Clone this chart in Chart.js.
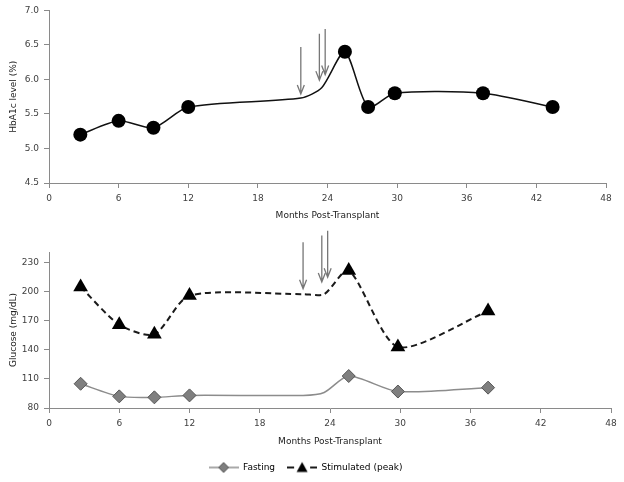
<!DOCTYPE html>
<html>
<head>
<meta charset="utf-8">
<script src="https://cdn.jsdelivr.net/npm/chart.js@4.4.1/dist/chart.umd.min.js"></script>
<style>
html, body { margin:0; padding:0; background:#fff; }
#wrap { position:relative; width:624px; height:482px; }
canvas { position:absolute; left:0; }
#top { top:0; }
#bottom { top:225px; }
</style>
</head>
<body>
<div id="wrap">
<canvas id="top" width="624" height="225"></canvas>
<canvas id="bottom" width="624" height="257"></canvas>
</div>
<script>

// HbA1c panel (markers)
const hbaMonths = [2.7, 6, 9, 12, 25.5, 27.5, 29.8, 37.4, 43.4]
const hbaValues = [5.2, 5.4, 5.3, 5.6, 6.4, 5.6, 5.8, 5.8, 5.6]

// glucose panel (markers)
const glucoseMonths = [2.7, 6, 9, 12, 25.6, 29.8, 37.5]
const fasting = [105, 92, 91, 93, 113, 97, 101]
const stimulated = [205, 166, 156, 196, 222, 143, 180]

// points on the curves without a marker (at the arrows)
const curveMonths = [21.7, 23.5]
const hbaCurve = [5.73, 5.88]
const fastingCurve = [93, 96]
const stimulatedCurve = [197.5, 197.5]

const monthTicks = [0, 6, 12, 18, 24, 30, 36, 42, 48]
const hbaTicks = [4.5, 5.0, 5.5, 6.0, 6.5, 7.0]
const glucoseTicks = [80, 110, 140, 170, 200, 230]

// arrows (month, start value, end value)
const arrowMonths = [21.7, 23.3, 23.8]
const hbaArrowFrom = [6.47, 6.66, 6.73]
const hbaArrowTo = [5.79, 5.99, 6.07]
const glucoseArrowFrom = [251, 258, 263]
const glucoseArrowTo = [203, 210, 215]

const tickFont = { family: "DejaVu Sans", size: 9 }
const titleFont = { family: "DejaVu Sans", size: 9 }
const axisGray = "#8a8a8a"

function series(xs, ys, hx, hy){
    const pts = xs.map((x, i) => ({ x: x, y: ys[i], hidden: false }))
    hx.forEach((x, i) => pts.push({ x: x, y: hy[i], hidden: true }))
    return pts.sort((a, b) => a.x - b.x)
}

function markerSize(r){
    return ctx => (ctx.raw && ctx.raw.hidden) ? 0 : r
}

function arrowPlugin(from, to){
    return {
        id: "arrows",
        afterDatasetsDraw(chart){
            const { ctx, scales } = chart
            ctx.save()
            ctx.strokeStyle = "#777"
            ctx.lineWidth = 1.3
            arrowMonths.forEach((m, i) => {
                const px = scales.x.getPixelForValue(m)
                const y0 = scales.y.getPixelForValue(from[i])
                const y1 = scales.y.getPixelForValue(to[i])
                ctx.beginPath()
                ctx.moveTo(px, y0)
                ctx.lineTo(px, y1)
                ctx.moveTo(px - 3.5, y1 - 9)
                ctx.lineTo(px, y1)
                ctx.lineTo(px + 3.5, y1 - 9)
                ctx.stroke()
            })
            ctx.restore()
        }
    }
}

function xScale(height, titleBottom){
    return {
        type: "linear",
        min: 0,
        max: 48,
        afterBuildTicks: s => { s.ticks = monthTicks.map(v => ({ value: v })) },
        ticks: { color: "#404040", font: tickFont, padding: 5 },
        grid: { drawOnChartArea: false, tickLength: 5, color: axisGray },
        border: { color: axisGray },
        title: {
            display: true,
            text: "Months Post-Transplant",
            color: "#222",
            font: titleFont,
            padding: { top: 0, bottom: titleBottom }
        },
        afterFit: s => { s.height = height }
    }
}

function yScale(min, max, ticks, title, fmt){
    return {
        min: min,
        max: max,
        afterBuildTicks: s => { s.ticks = ticks.map(v => ({ value: v })) },
        ticks: { color: "#404040", font: tickFont, padding: 5, callback: fmt },
        grid: { drawOnChartArea: false, tickLength: 5, color: axisGray },
        border: { color: axisGray },
        title: {
            display: true,
            text: title,
            color: "#222",
            font: titleFont,
            padding: { top: 8, bottom: 8 }
        },
        afterFit: s => { s.width = 49 }
    }
}

new Chart(document.getElementById("top"), {
    type: "line",
    data: {
        datasets: [{
            label: "HbA1c",
            data: series(hbaMonths, hbaValues, curveMonths, hbaCurve),
            borderColor: "#111",
            borderWidth: 1.5,
            backgroundColor: "#000",
            pointRadius: markerSize(7),
            pointBorderWidth: 0,
            tension: 0.25
        }]
    },
    options: {
        responsive: false,
        animation: false,
        devicePixelRatio: 1,
        layout: { padding: { top: 10, right: 18, left: 0, bottom: 0 } },
        plugins: { legend: { display: false }, tooltip: { enabled: false } },
        scales: {
            x: xScale(42, 4),
            y: yScale(4.5, 7.0, hbaTicks, "HbA1c level (%)", v => v.toFixed(1))
        }
    },
    plugins: [arrowPlugin(hbaArrowFrom, hbaArrowTo)]
})

function legendIcon(kind){
    const c = document.createElement("canvas")
    c.width = 30
    c.height = 14
    const g = c.getContext("2d")
    if(kind === "fasting"){
        g.strokeStyle = "#8c8c8c"
        g.lineWidth = 1.5
        g.beginPath(); g.moveTo(0, 7); g.lineTo(30, 7); g.stroke()
        g.fillStyle = "#7f7f7f"
        g.strokeStyle = "#555"
        g.lineWidth = 1
        g.beginPath(); g.moveTo(15, 2); g.lineTo(20, 7); g.lineTo(15, 12); g.lineTo(10, 7); g.closePath()
        g.fill(); g.stroke()
    }else{
        g.strokeStyle = "#1a1a1a"
        g.lineWidth = 2
        g.beginPath(); g.moveTo(0, 7); g.lineTo(7, 7); g.moveTo(23, 7); g.lineTo(30, 7); g.stroke()
        g.fillStyle = "#000"
        g.beginPath(); g.moveTo(15, 1.5); g.lineTo(20.5, 11.5); g.lineTo(9.5, 11.5); g.closePath(); g.fill()
    }
    return c
}

const fastingIcon = legendIcon("fasting")
const stimIcon = legendIcon("stim")

new Chart(document.getElementById("bottom"), {
    type: "line",
    data: {
        datasets: [{
            label: "Fasting",
            data: series(glucoseMonths, fasting, curveMonths, fastingCurve),
            borderColor: "#8c8c8c",
            borderWidth: 1.5,
            backgroundColor: "#7f7f7f",
            pointBackgroundColor: "#7f7f7f",
            pointBorderColor: "#555",
            pointBorderWidth: 1,
            pointStyle: "rectRot",
            pointRadius: markerSize(6.5),
            tension: 0.25
        }, {
            label: "Stimulated (peak)",
            data: series(glucoseMonths, stimulated, curveMonths, stimulatedCurve),
            borderColor: "#1a1a1a",
            borderWidth: 2,
            borderDash: [6, 4],
            backgroundColor: "#000",
            pointBackgroundColor: "#000",
            pointBorderWidth: 0,
            pointStyle: "triangle",
            pointRadius: markerSize(8.5),
            tension: 0.25
        }]
    },
    options: {
        responsive: false,
        animation: false,
        devicePixelRatio: 1,
        layout: { padding: { top: 27, right: 13, left: 0, bottom: 0 } },
        plugins: {
            tooltip: { enabled: false },
            legend: {
                position: "bottom",
                labels: {
                    font: tickFont,
                    color: "#404040",
                    usePointStyle: true,
                    pointStyleWidth: 30,
                    padding: 12,
                    generateLabels: () => [
                        { text: "Fasting", pointStyle: fastingIcon, fillStyle: "#fff", strokeStyle: "#fff", lineWidth: 0, hidden: false, datasetIndex: 0 },
                        { text: "Stimulated (peak)", pointStyle: stimIcon, fillStyle: "#fff", strokeStyle: "#fff", lineWidth: 0, hidden: false, datasetIndex: 1 }
                    ]
                }
            }
        },
        scales: {
            x: xScale(43, 4),
            y: yScale(80, 241, glucoseTicks, "Glucose (mg/dL)", v => v)
        }
    },
    plugins: [arrowPlugin(glucoseArrowFrom, glucoseArrowTo)]
})

</script>
</body>
</html>
